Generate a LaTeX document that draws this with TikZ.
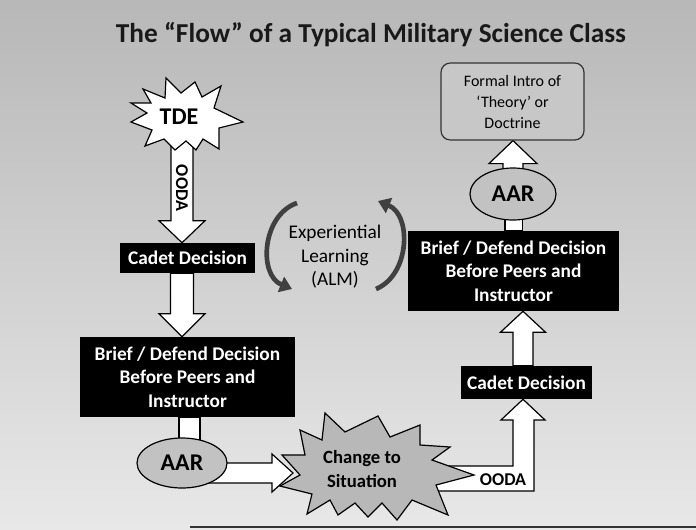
\documentclass[tikz,border=0pt]{standalone}
\usepackage{fontspec}
\setmainfont{Carlito}
\usetikzlibrary{calc,shapes.geometric,arrows.meta}
\pgfdeclarelayer{back}
\pgfdeclarelayer{low}
\pgfdeclarelayer{stars}
\pgfdeclarelayer{mid}
\pgfsetlayers{back,low,stars,mid,main}
% vertical block arrow: #1 start, #2 tip, #3 shaft half width, #4 head half width, #5 signed head length
\newcommand{\varrow}[5]{\draw[blockarrow] let \p1=#1, \p2=#2 in
  (\x2-#3,\y1) -- (\x2-#3,\y2+#5) -- (\x2-#4,\y2+#5) -- (\x2,\y2) --
  (\x2+#4,\y2+#5) -- (\x2+#3,\y2+#5) -- (\x2+#3,\y1) -- cycle;}
% horizontal block arrow pointing right
\newcommand{\harrow}[5]{\draw[blockarrow] let \p1=#1, \p2=#2 in
  (\x1,\y2+#3) -- (\x2-#5,\y2+#3) -- (\x2-#5,\y2+#4) -- (\x2,\y2) --
  (\x2-#5,\y2-#4) -- (\x2-#5,\y2-#3) -- (\x1,\y2-#3) -- cycle;}
\begin{document}
\begin{tikzpicture}[x=0.75pt,y=-0.75pt,
  blockarrow/.style={draw=black,fill=white,line width=0.9pt,line join=miter},
  darkbox/.style={fill=black,text=white,font=\bfseries\fontsize{14.5}{17.6}\selectfont,align=center,inner sep=0pt},
  oval/.style={ellipse,draw=black,fill=black!24,line width=0.9pt,font=\bfseries\fontsize{18}{20}\selectfont,inner sep=0pt},
  formalbox/.style={draw=black!80,fill=black!22,rounded corners=7pt,line width=0.9pt,align=center,
    font=\fontsize{12}{15.75}\selectfont,text=black,inner sep=0pt},
  burst/.style={draw=black,line width=0.9pt,line join=miter},
  bursttext/.style={font=\bfseries\fontsize{14}{18}\selectfont,align=center},
  cycarrow/.style={draw=black!75,line width=3.5pt,-{Triangle[length=9pt,width=12pt]}}
]
\useasboundingbox (0,0) rectangle (696,529);
\begin{pgfonlayer}{back}
  \shade[top color=black!28,bottom color=black!9] (0,0) rectangle (696,529);
  \draw[black!80,line width=1.5pt] (190,527) -- (696,527);
\end{pgfonlayer}

% title
\node[font=\bfseries\fontsize{20.5}{23}\selectfont,text=black!90] (title) at (371,35)
  {The “Flow” of a Typical Military Science Class};

% boxes
\node[darkbox,minimum width=101.25pt,minimum height=22.5pt] (cadetL) at (187.5,258) {Cadet Decision};
\node[darkbox,minimum width=161.25pt,minimum height=60pt] (briefL) at (187.5,377)
  {Brief / Defend Decision\\Before Peers and\\Instructor};
\node[darkbox,minimum width=98.25pt,minimum height=24.75pt] (cadetR) at (526.5,382.5) {Cadet Decision};
\node[darkbox,minimum width=158.25pt,minimum height=60pt] (briefR) at (513.5,271)
  {Brief / Defend Decision\\Before Peers and\\Instructor};
\node[formalbox,minimum width=107.25pt,minimum height=57.75pt] (formal) at (512.5,101.5)
  {Formal Intro of\\‘Theory’ or\\Doctrine};
\node[oval,minimum width=67.5pt,minimum height=37.5pt] (aarL) at (182,463) {AAR};
\node[oval,minimum width=64.5pt,minimum height=39pt] (aarR) at (513,194) {AAR};

% star texts
\node[font=\bfseries\fontsize{18}{20}\selectfont] (tde) at (179,117) {TDE};
\node[bursttext] (change) at (362,469) {Change to\\Situation};
\node[font=\fontsize{14.5}{17.6}\selectfont,align=center,text=black] (exp) at (335,257)
  {Experiential\\Learning\\(ALM)};

\coordinate (tdeC) at (182,130);
\coordinate (colR) at (523,430);
\coordinate (chgTip) at (293,473);

% stars
\begin{pgfonlayer}{stars}
  \path[burst,fill=white] (143,89) -- (165,98) -- (166,78) -- (181,93) -- (195,82) -- (202,97)
    -- (221,86) -- (214,108) -- (243,122) -- (219,128) -- (219,149) -- (203,139) -- (196,150)
    -- (186,141) -- (175,150) -- (164,139) -- (145,146) -- (152,130) -- (131,122) -- (147,113)
    -- (131,103) -- (151,103) -- cycle;
  \path[burst,fill=black!28] (300,430) -- (322,440) -- (325,413) -- (345,432) -- (378,416)
    -- (390,437) -- (420,425) -- (420,445) -- (450,447) -- (432,460) -- (474,475) -- (436,485)
    -- (448,515) -- (412,500) -- (397,520) -- (382,503) -- (368,517) -- (355,503) -- (338,515)
    -- (330,500) -- (307,514) -- (312,494) -- (280,486) -- (300,475) -- (282,455) -- (305,455)
    -- cycle;
\end{pgfonlayer}

% block arrows
\begin{pgfonlayer}{low}
  \varrow{(tdeC)}{(tdeC |- cadetL.north)}{8.25pt}{17.25pt}{16.5pt}
  \varrow{(tdeC |- cadetL.south)}{(tdeC |- briefL.north)}{8.6pt}{17.25pt}{17.25pt}
  \draw[blockarrow] ($(briefL.south)+(-8.5,0)$) rectangle ($(aarL.center)+(18,0)$);
  \draw[blockarrow] (430,466) -- (513,466) -- (513,420) -- (501,420) -- (colR |- cadetR.south)
    -- (545,420) -- (534,420) -- (534,491) -- (430,491) -- cycle;
  \varrow{(colR |- cadetR.north)}{(colR |- briefR.south)}{7.5pt}{16.9pt}{-15.75pt}
  \draw[blockarrow] ($(briefR.north)+(-8.5,0)$) rectangle ($(aarR.center)+(9.5,0)$);
  \varrow{(aarR.center)}{(aarR |- formal.south)}{7.5pt}{18pt}{-17.25pt}
\end{pgfonlayer}
\begin{pgfonlayer}{mid}
  \harrow{(aarL.center)}{(chgTip)}{7.5pt}{14.25pt}{15.75pt}
\end{pgfonlayer}

% arrow labels
\node[rotate=-90,font=\bfseries\fontsize{13.5}{15}\selectfont] (oodaL) at (182,188) {OODA};
\node[font=\bfseries\fontsize{13.5}{15}\selectfont] (oodaR) at (503,480) {OODA};

% cycle arrows
\coordinate (c1a) at (297,203);
\coordinate (c1b) at (292,289);
\coordinate (c2a) at (376,289);
\coordinate (c2b) at (378,201);
\draw[cycarrow] (c1a) .. controls (262,215) and (258,275) .. (c1b);
\draw[cycarrow] (c2a) .. controls (410,275) and (412,215) .. (c2b);
\end{tikzpicture}
\end{document}
